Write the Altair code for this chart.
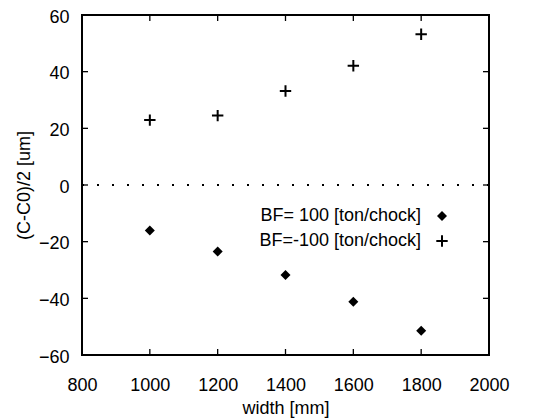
import altair as alt
import pandas as pd

width_mm = [1000, 1200, 1400, 1600, 1800]
bf_pos100 = [-16.1, -23.5, -31.8, -41.2, -51.4]
bf_neg100 = [22.9, 24.5, 33.2, 42.1, 53.2]
x_ticks = [800, 1000, 1200, 1400, 1600, 1800, 2000]
y_ticks = [-60, -40, -20, 0, 20, 40, 60]
legend_labels = ["BF= 100 [ton/chock]", "BF=-100 [ton/chock]"]

FONT = "Liberation Sans"
FS = 18
xs = alt.Scale(domain=[800, 2000], nice=False, zero=False)
ys = alt.Scale(domain=[-60, 60], nice=False, zero=False)

pos = pd.DataFrame({"w": width_mm, "v": bf_pos100})
neg = pd.DataFrame({"w": width_mm, "v": bf_neg100})

base_x = alt.X("w:Q", scale=xs,
               axis=alt.Axis(values=x_ticks, format="d", title="width [mm]", grid=False,
                             ticks=False, domain=False, labelPadding=21, labelFlush=False,
                             labelFontSize=FS, titleFontSize=FS, titleFont=FONT,
                             labelFont=FONT, titleFontWeight="normal",
                             titlePadding=5, labelColor="black", titleColor="black"))
base_y = alt.Y("v:Q", scale=ys,
               axis=alt.Axis(values=y_ticks, format="d", title="(C-C0)/2 [um]", grid=False,
                             ticks=False, domain=False, labelPadding=13, labelOffset=2,
                             labelFlush=False,
                             labelFontSize=FS, titleFontSize=FS, titleFont=FONT,
                             labelFont=FONT, titleFontWeight="normal",
                             titlePadding=5, labelColor="black", titleColor="black"))

diamonds = alt.Chart(pos).mark_point(shape="diamond", filled=True, color="black",
                                     size=100, opacity=1).encode(x=base_x, y=base_y)
plus_path = "M-1,0L1,0M0,-1L0,1"
pluses = alt.Chart(neg).mark_point(shape=plus_path, filled=False, color="black",
                                   size=130, strokeWidth=2, opacity=1).encode(
    x=alt.X("w:Q", scale=xs), y=alt.Y("v:Q", scale=ys))

zero = alt.Chart(pd.DataFrame({"a": [800], "b": [2000], "y": [0]})).mark_rule(
    color="black", strokeDash=[2, 13], strokeWidth=2).encode(
    x=alt.X("a:Q", scale=xs), x2="b:Q", y=alt.Y("y:Q", scale=ys))

# inward ticks
yt = pd.DataFrame({"y": y_ticks[1:-1]})
xt = pd.DataFrame({"x": x_ticks[1:-1]})
tick_l = alt.Chart(yt).mark_rule(color="black", strokeWidth=1.3).encode(
    x=alt.value(0), x2=alt.value(6), y=alt.Y("y:Q", scale=ys))
tick_r = alt.Chart(yt).mark_rule(color="black", strokeWidth=1.3).encode(
    x=alt.value(401), x2=alt.value(407), y=alt.Y("y:Q", scale=ys))
tick_b = alt.Chart(xt).mark_rule(color="black", strokeWidth=1.3).encode(
    y=alt.value(334), y2=alt.value(340), x=alt.X("x:Q", scale=xs))
tick_t = alt.Chart(xt).mark_rule(color="black", strokeWidth=1.3).encode(
    y=alt.value(0), y2=alt.value(6), x=alt.X("x:Q", scale=xs))

# legend
leg = pd.DataFrame({"label": legend_labels})
leg_text = alt.Chart(leg.iloc[[0]]).mark_text(align="right", baseline="middle",
                                              fontSize=FS, font=FONT, color="black").encode(
    x=alt.value(339), y=alt.value(201), text="label:N")
leg_text2 = alt.Chart(leg.iloc[[1]]).mark_text(align="right", baseline="middle",
                                               fontSize=FS, font=FONT, color="black").encode(
    x=alt.value(339), y=alt.value(226), text="label:N")
leg_sym1 = alt.Chart(leg.iloc[[0]]).mark_point(shape="diamond", filled=True, color="black",
                                               size=100, opacity=1).encode(
    x=alt.value(360), y=alt.value(201))
leg_sym2 = alt.Chart(leg.iloc[[1]]).mark_point(shape=plus_path, filled=False, color="black",
                                               size=130, strokeWidth=2, opacity=1).encode(
    x=alt.value(360), y=alt.value(226))

chart = alt.layer(zero, tick_l, tick_r, tick_b, tick_t, diamonds, pluses,
                  leg_text, leg_text2, leg_sym1, leg_sym2).properties(
    width=407, height=340,
    autosize=alt.AutoSizeParams(type="none"),
    padding={"left": 74, "top": 7, "right": 30, "bottom": 63},
    background="white",
).configure_view(stroke="black", strokeWidth=2)

chart.save("out.html", embed_options={"renderer": "svg", "actions": False})
